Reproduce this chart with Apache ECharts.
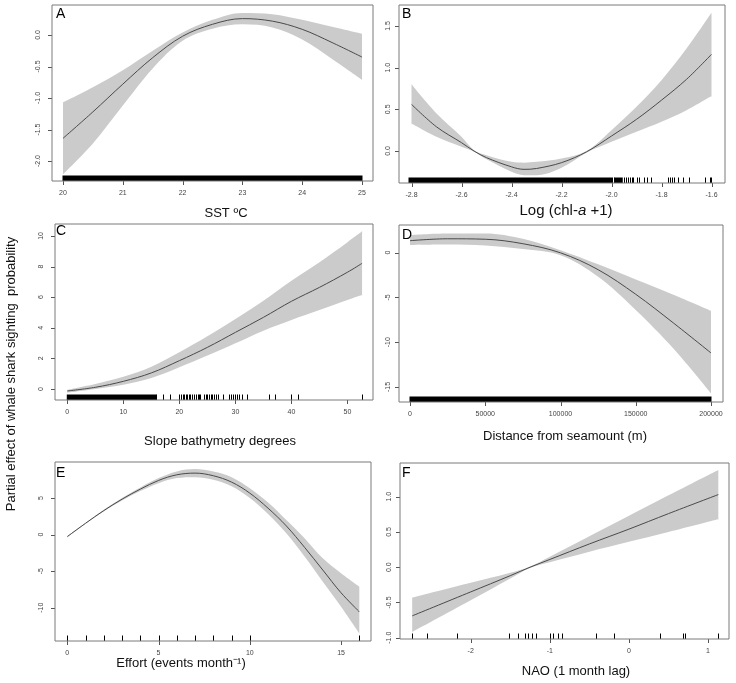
<!DOCTYPE html>
<html><head><meta charset="utf-8">
<script src="https://cdn.jsdelivr.net/npm/echarts@6/dist/echarts.min.js"></script>
<style>html,body{margin:0;padding:0;background:#fff}#c{width:736px;height:683px}</style>
</head><body><div id="c"></div>
<script>
// ---------- Panel A : SST ----------
const aX   = [20, 20.5, 21, 21.5, 22, 22.5, 23, 23.5, 24, 24.5, 25];
const aFit = [-1.64, -1.22, -0.78, -0.36, -0.02, 0.17, 0.26, 0.22, 0.09, -0.12, -0.35];
const aUp  = [-1.07, -0.83, -0.56, -0.25, 0.04, 0.24, 0.35, 0.33, 0.24, 0.13, 0.02];
const aLo  = [-2.21, -1.72, -1.12, -0.53, -0.09, 0.10, 0.17, 0.12, -0.07, -0.38, -0.71];
const aRugBands = [[20, 25]];
const aRugTicks = [];
const aXTicks = [20, 21, 22, 23, 24, 25];
const aYTicks = [-2.0, -1.5, -1.0, -0.5, 0.0];

// ---------- Panel B : Log(chl-a + 1) ----------
const bX   = [-2.8, -2.7, -2.6, -2.55, -2.5, -2.4, -2.35, -2.3, -2.2, -2.1, -2.0, -1.9, -1.8, -1.7, -1.6];
const bFit = [0.56, 0.29, 0.10, 0.00, -0.08, -0.19, -0.22, -0.21, -0.14, -0.01, 0.18, 0.38, 0.61, 0.86, 1.16];
const bUp  = [0.80, 0.45, 0.17, 0.01, -0.05, -0.13, -0.14, -0.13, -0.09, 0.00, 0.25, 0.53, 0.85, 1.23, 1.66];
const bLo  = [0.33, 0.17, 0.05, -0.01, -0.10, -0.25, -0.29, -0.29, -0.20, -0.02, 0.11, 0.23, 0.35, 0.49, 0.66];
const bRugBands = [[-2.81, -2.0], [-1.986, -1.957]];
const bRugTicks = [-1.997, -1.992, -1.95, -1.942, -1.934, -1.926, -1.919, -1.913, -1.899, -1.889, -1.87, -1.859, -1.843,
                   -1.775, -1.766, -1.758, -1.75, -1.733, -1.715, -1.689, -1.626, -1.606, -1.602];
const bXTicks = [-2.8, -2.6, -2.4, -2.2, -2.0, -1.8, -1.6];
const bYTicks = [0.0, 0.5, 1.0, 1.5];

// ---------- Panel C : Slope ----------
const cX   = [0, 5, 10, 15, 20, 25, 30, 35, 40, 45, 50, 52.6];
const cFit = [-0.13, 0.11, 0.50, 1.05, 1.85, 2.72, 3.70, 4.68, 5.73, 6.64, 7.63, 8.21];
const cUp  = [-0.05, 0.33, 0.80, 1.46, 2.40, 3.44, 4.58, 5.77, 7.08, 8.28, 9.59, 10.30];
const cLo  = [-0.24, 0.00, 0.28, 0.72, 1.42, 2.18, 2.98, 3.81, 4.51, 5.16, 5.82, 6.14];
const cRugBands = [[0, 15.8]];
const cRugTicks = [15.83, 17.14, 18.33, 19.94, 20.30, 20.60, 20.89, 21.13, 21.43, 21.73, 21.96, 22.20, 22.68, 22.92,
                   23.27, 23.51, 23.75, 24.40, 24.70, 25.0, 25.30, 25.60, 25.89, 26.25, 26.55, 26.85, 27.86, 28.87,
                   29.23, 29.58, 29.94, 30.30, 30.71, 31.13, 32.02, 36.07, 37.08, 39.94, 41.25, 52.62];
const cXTicks = [0, 10, 20, 30, 40, 50];
const cYTicks = [0, 2, 4, 6, 8, 10];

// ---------- Panel D : Distance from seamount ----------
const dX   = [0, 25000, 50000, 75000, 100000, 125000, 150000, 175000, 200000];
const dFit = [1.34, 1.55, 1.50, 1.00, -0.02, -1.90, -4.65, -7.85, -11.2];
const dUp  = [1.97, 2.15, 2.15, 1.55, 0.28, -1.30, -3.00, -4.70, -6.50];
const dLo  = [0.85, 0.90, 0.80, 0.40, -0.30, -2.70, -6.40, -10.70, -15.70];
const dRugBands = [[0, 200000]];
const dRugTicks = [];
const dXTicks = [0, 50000, 100000, 150000, 200000];
const dYTicks = [-15, -10, -5, 0];

// ---------- Panel E : Effort ----------
const eX   = [0, 1, 2, 3, 4, 5, 6, 7, 8, 9, 10, 11, 12, 13, 14, 15, 16];
const eFit = [-0.27, 1.55, 3.29, 4.85, 6.22, 7.41, 8.18, 8.41, 8.05, 7.18, 5.67, 3.61, 1.19, -1.74, -4.85, -7.96, -10.56];
const eUp  = [-0.20, 1.60, 3.40, 5.00, 6.45, 7.73, 8.64, 8.96, 8.64, 7.86, 6.35, 4.39, 2.01, -0.50, -3.25, -5.30, -7.13];
const eLo  = [-0.35, 1.50, 3.15, 4.65, 5.95, 7.04, 7.73, 7.86, 7.50, 6.60, 5.00, 2.83, 0.18, -3.00, -6.45, -9.86, -13.50];
const eRugBands = [];
const eRugTicks = [0, 1, 2, 3, 4, 5, 6, 7, 8, 9, 10, 16];
const eXTicks = [0, 5, 10, 15];
const eYTicks = [-10, -5, 0, 5];

// ---------- Panel F : NAO ----------
const fX   = [-2.74, -2.0, -1.5, -1.25, -1.0, -0.5, 0, 0.5, 1.13];
const fFit = [-0.69, -0.35, -0.12, 0.00, 0.11, 0.33, 0.54, 0.76, 1.03];
const fUp  = [-0.43, -0.22, -0.08, 0.01, 0.15, 0.44, 0.73, 1.02, 1.38];
const fLo  = [-0.92, -0.47, -0.16, -0.01, 0.07, 0.22, 0.36, 0.50, 0.68];
const fRugBands = [];
const fRugTicks = [-2.74, -2.55, -2.17, -1.51, -1.40, -1.31, -1.28, -1.23, -1.17, -1.0, -0.96, -0.90, -0.84,
                   -0.41, -0.19, 0.39, 0.68, 0.71, 1.13];
const fXTicks = [-2, -1, 0, 1];
const fYTicks = [-1.0, -0.5, 0.0, 0.5, 1.0];

// ---------- layout / styling ----------
const FONT = "'Liberation Sans', Arial, sans-serif";
const panels = [
  {L:'A', x:aX, fit:aFit, up:aUp, lo:aLo, bands:aRugBands, ticks:aRugTicks, xt:aXTicks, yt:aYTicks, xd:0, yd:1,
   g:{left:52, top:5, width:321, height:176}, xr:[19.816, 25.184], yr:[-2.317, 0.476], col:0,
   letter:[56, 7], title:{x:226, y:213, size:13}},
  {L:'B', x:bX, fit:bFit, up:bUp, lo:bLo, bands:bRugBands, ticks:bRugTicks, xt:bXTicks, yt:bYTicks, xd:1, yd:1,
   g:{left:399, top:5, width:326, height:178}, xr:[-2.85, -1.546], yr:[-0.384, 1.752], col:1,
   letter:[402, 7.5], title:{x:566, y:211, size:15}},
  {L:'C', x:cX, fit:cFit, up:cUp, lo:cLo, bands:cRugBands, ticks:cRugTicks, xt:cXTicks, yt:cYTicks, xd:0, yd:0,
   g:{left:55, top:224, width:318, height:176}, xr:[-2.19, 54.55], yr:[-0.72, 10.78], col:0,
   letter:[56, 224.5], title:{x:220, y:441, size:13}},
  {L:'D', x:dX, fit:dFit, up:dUp, lo:dLo, bands:dRugBands, ticks:dRugTicks, xt:dXTicks, yt:dYTicks, xd:0, yd:0,
   g:{left:399, top:225, width:324, height:177}, xr:[-7309, 207973], yr:[-16.68, 3.09], col:1,
   letter:[402, 228.5], title:{x:565, y:436, size:13}},
  {L:'E', x:eX, fit:eFit, up:eUp, lo:eLo, bands:eRugBands, ticks:eRugTicks, xt:eXTicks, yt:eYTicks, xd:0, yd:0,
   g:{left:55, top:462, width:316, height:179}, xr:[-0.675, 16.64], yr:[-14.55, 9.93], col:0,
   letter:[56, 466], title:{x:181, y:663, size:13}},
  {L:'F', x:fX, fit:fFit, up:fUp, lo:fLo, bands:fRugBands, ticks:fRugTicks, xt:fXTicks, yt:fYTicks, xd:0, yd:1,
   g:{left:400, top:463, width:329, height:176}, xr:[-2.894, 1.265], yr:[-1.018, 1.478], col:1,
   letter:[402, 466], title:{x:576, y:671, size:13}}
];
const titles = {
  A: {text:'SST ºC'},
  B: {text:'{n|Log (chl-}{i|a}{n| +1)}', rich:true},
  C: {text:'Slope bathymetry degrees'},
  D: {text:'Distance from seamount (m)'},
  E: {text:'Effort (events month⁻¹)'},
  F: {text:'NAO (1 month lag)'}
};

const zip = (a, b) => a.map((v, i) => [v, b[i]]);
const grids = [], xAxes = [], yAxes = [], series = [], graphics = [];
const BOX = '#7a7a7a';
const TICK = '#555';

panels.forEach((p, i) => {
  grids.push(Object.assign({show:true, borderColor:BOX, borderWidth:1, backgroundColor:'transparent', z:10}, p.g));
  xAxes.push({type:'value', gridIndex:i, position:'bottom', min:p.xr[0], max:p.xr[1], splitLine:{show:false},
    axisLine:{show:false, onZero:false}, axisTick:{show:false},
    axisLabel:{show:true, customValues:p.xt, fontSize:7, color:'#444', fontFamily:FONT, margin:9,
      formatter: v => v.toFixed(p.xd)}});
  yAxes.push({type:'value', gridIndex:i, position:'left', min:p.yr[0], max:p.yr[1], splitLine:{show:false},
    axisLine:{show:false, onZero:false}, axisTick:{show:false},
    axisLabel:{show:true, customValues:p.yt, fontSize:7, color:'#444', fontFamily:FONT, rotate:90,
      margin: p.col === 0 ? 10 : 7, formatter: v => v.toFixed(p.yd)}});
  const common = {xAxisIndex:i, yAxisIndex:i, type:'line', symbol:'none', silent:true, smooth:0.35};
  // confidence band: grey area under the upper limit, masked in white under the lower limit
  series.push(Object.assign({}, common, {data:zip(p.x, p.up), lineStyle:{opacity:0},
    areaStyle:{color:'#cbcbcb', opacity:1, origin:'start'}, z:1}));
  series.push(Object.assign({}, common, {data:zip(p.x, p.lo), lineStyle:{opacity:0},
    areaStyle:{color:'#ffffff', opacity:1, origin:'start'}, z:2}));
  // clean the anti-aliased edge of the grey area below the band's two ends
  const n = p.x.length - 1;
  series.push({type:'custom', xAxisIndex:i, yAxisIndex:i, silent:true, z:2.5,
    data:[[p.x[0], p.lo[0]], [p.x[n], p.lo[n]]], encode:{x:0, y:1},
    renderItem:(params, api) => {
      const cs = params.coordSys; const b = cs.y + cs.height;
      const pt = api.coord([api.value(0), api.value(1)]);
      return {type:'line', shape:{x1:pt[0], y1:pt[1] + 1, x2:pt[0], y2:b}, style:{stroke:'#fff', lineWidth:2}};
    }});
  series.push(Object.assign({}, common, {data:zip(p.x, p.fit), lineStyle:{color:'#4a4a4a', width:1}, z:3}));
  // outward axis ticks (x then y), placed through the axes' scales
  series.push({type:'custom', xAxisIndex:i, yAxisIndex:i, silent:true, z:6, clip:false,
    data:p.xt.map(v => [v, p.yr[0]]), encode:{x:0, y:1},
    renderItem:(params, api) => {
      const cs = params.coordSys; const b = cs.y + cs.height;
      const px = Math.round(api.coord([api.value(0), api.value(1)])[0]) + 0.5;
      return {type:'line', shape:{x1:px, y1:b, x2:px, y2:b + 4}, style:{stroke:TICK, lineWidth:1}};
    }});
  series.push({type:'custom', xAxisIndex:i, yAxisIndex:i, silent:true, z:6, clip:false,
    data:p.yt.map(v => [p.xr[0], v]), encode:{x:0, y:1},
    renderItem:(params, api) => {
      const cs = params.coordSys;
      const py = Math.round(api.coord([api.value(0), api.value(1)])[1]) + 0.5;
      return {type:'line', shape:{x1:cs.x, y1:py, x2:cs.x - 4, y2:py}, style:{stroke:TICK, lineWidth:1}};
    }});
  if (p.ticks.length) series.push({type:'custom', xAxisIndex:i, yAxisIndex:i, silent:true, z:5,
    data:p.ticks.map(v => [v, 0]), encode:{x:0, y:1},
    renderItem:(params, api) => {
      const cs = params.coordSys; const b = cs.y + cs.height;
      const px = Math.round(api.coord([api.value(0), 0])[0]) + 0.5;
      return {type:'line', shape:{x1:px, y1:b, x2:px, y2:b - 5.5}, style:{stroke:'#000', lineWidth:1}};
    }});
  if (p.bands.length) series.push({type:'custom', xAxisIndex:i, yAxisIndex:i, silent:true, z:5,
    data:p.bands.map(v => [v[0], v[1], 0]), encode:{x:[0, 1], y:2},
    renderItem:(params, api) => {
      const cs = params.coordSys; const b = cs.y + cs.height;
      const x1 = api.coord([api.value(0), 0])[0], x2 = api.coord([api.value(1), 0])[0];
      return {type:'rect', shape:{x:x1 - 0.5, y:b - 5.5, width:x2 - x1 + 1, height:5.5}, style:{fill:'#000'}};
    }});
  graphics.push({type:'text', x:p.letter[0], y:p.letter[1], z:20,
    style:{text:p.L, font:'14px ' + FONT, fill:'#000', textVerticalAlign:'top'}});
  const t = titles[p.L];
  const st = {text:t.text, font: p.title.size + 'px ' + FONT, fill:'#111', textAlign:'center', textVerticalAlign:'middle'};
  if (t.rich) st.rich = {n:{fontSize:p.title.size, fontFamily:FONT, color:'#111'},
                         i:{fontSize:p.title.size, fontFamily:FONT, fontStyle:'italic', color:'#111'}};
  graphics.push({type:'text', x:p.title.x, y:p.title.y, z:20, style:st});
});

graphics.push({type:'text', x:11, y:374, rotation:Math.PI / 2, z:20,
  style:{text:'Partial effect of whale shark sighting  probability', font:'13px ' + FONT, fill:'#111',
         textAlign:'center', textVerticalAlign:'middle'}});

const chart = echarts.init(document.getElementById('c'), null, {renderer:'canvas'});
chart.setOption({animation:false, backgroundColor:'#fff', grid:grids, xAxis:xAxes, yAxis:yAxes,
  series:series, graphic:graphics});
</script></body></html>
